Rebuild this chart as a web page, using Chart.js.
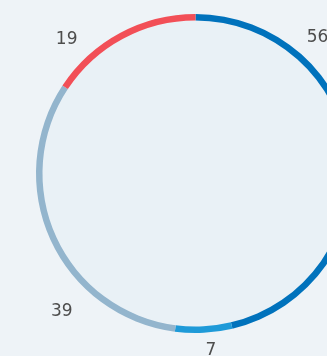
<!DOCTYPE html>
<html>
<head>
<meta charset="utf-8">
<script src="https://cdn.jsdelivr.net/npm/chart.js@4.4.1/dist/chart.umd.min.js"></script>
<style>
  html, body { margin: 0; padding: 0; background: #eef3f7; overflow: hidden; }
  #wrap { width: 360px; height: 356px; position: relative; }
</style>
</head>
<body>
<div id="wrap"><canvas id="ring"></canvas></div>
<script>
const labels = ['A', 'B', 'C', 'D'];
const values = [56, 7, 39, 19];
const colors = ['#0072bc', '#1e9ad8', '#93b5cd', '#f24f57'];
// where each value label sits around the ring (degrees clockwise from top, px past the ring)
const labelAngles = [42, 175, 224, 316];
const labelGaps = [23, 18, 33, 26];

const ringPlugin = {
  id: 'ringExtras',
  beforeDatasetsDraw(chart) {
    const arc = chart.getDatasetMeta(0).data[0];
    if (!arc) return;
    const ctx = chart.ctx;
    ctx.save();
    ctx.beginPath();
    ctx.arc(arc.x, arc.y, arc.innerRadius, 0, Math.PI * 2);
    ctx.fillStyle = '#e9f1f6';
    ctx.fill();
    ctx.restore();
  },
  afterDatasetsDraw(chart) {
    const meta = chart.getDatasetMeta(0);
    const ctx = chart.ctx;
    ctx.save();
    ctx.font = '17px "DejaVu Sans"';
    ctx.fillStyle = '#4d4d4d';
    ctx.textAlign = 'center';
    ctx.textBaseline = 'middle';
    meta.data.forEach((arc, i) => {
      const a = labelAngles[i] * Math.PI / 180;
      const r = arc.outerRadius + labelGaps[i];
      ctx.fillText(String(values[i]), arc.x + r * Math.sin(a), arc.y - r * Math.cos(a));
    });
    ctx.restore();
  }
};

new Chart(document.getElementById('ring'), {
  type: 'doughnut',
  data: {
    labels: labels,
    datasets: [{
      data: values,
      backgroundColor: colors,
      borderWidth: 0
    }]
  },
  options: {
    responsive: true,
    maintainAspectRatio: false,
    animation: false,
    cutout: 153,
    layout: { padding: { left: 36, right: 5, top: 14, bottom: 23 } },
    plugins: {
      legend: { display: false },
      tooltip: { enabled: false }
    }
  },
  plugins: [ringPlugin]
});
</script>
</body>
</html>
